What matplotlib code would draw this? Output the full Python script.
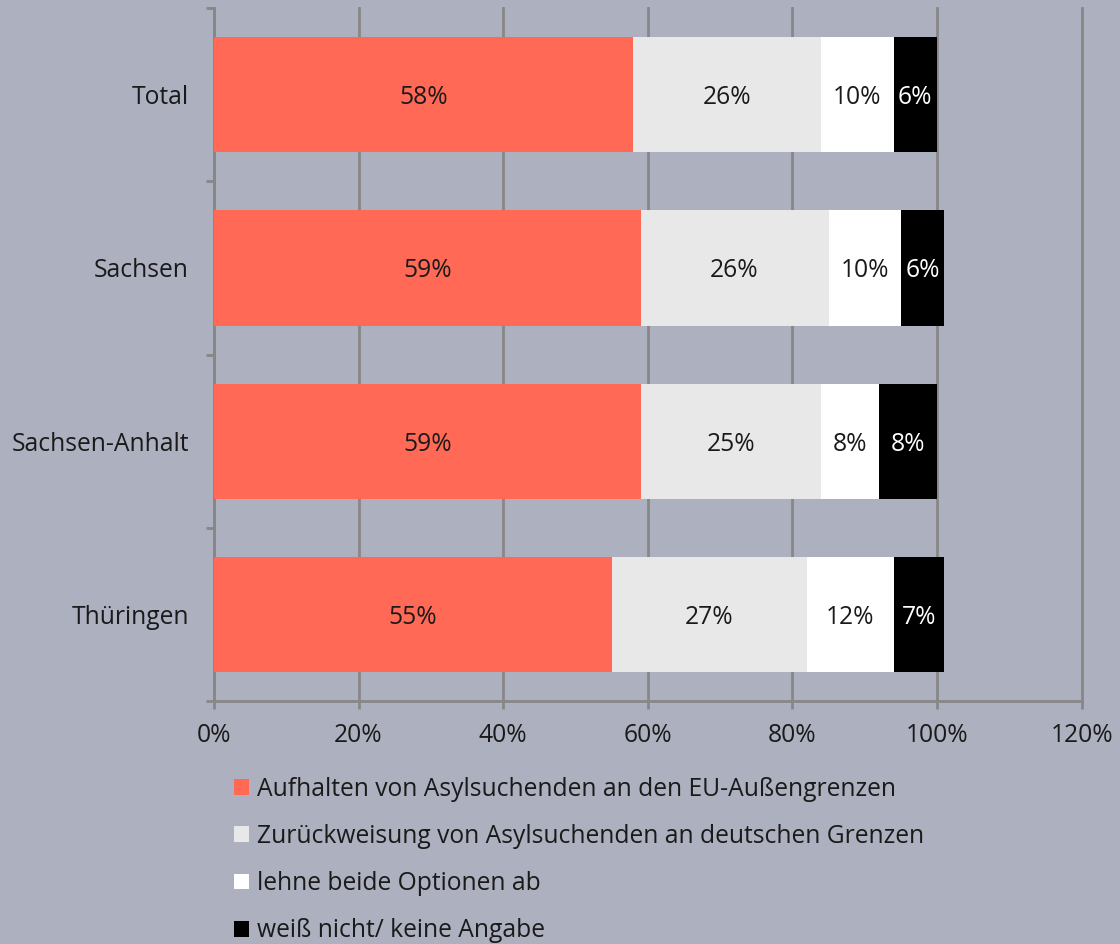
import matplotlib
matplotlib.use("Agg")
import matplotlib.pyplot as plt
import numpy as np

categories = ["Total", "Sachsen", "Sachsen-Anhalt", "Thüringen"]
series_names = [
    "Aufhalten von Asylsuchenden an den EU-Außengrenzen",
    "Zurückweisung von Asylsuchenden an deutschen Grenzen",
    "lehne beide Optionen ab",
    "weiß nicht/ keine Angabe",
]
aufhalten = [58, 59, 59, 55]
zurueck = [26, 26, 25, 27]
lehne = [10, 10, 8, 12]
weiss = [6, 6, 8, 7]
x_ticks = [0, 20, 40, 60, 80, 100, 120]

colors = ["#FF6955", "#E8E8E8", "#FFFFFF", "#000000"]
label_colors = ["#1a1a1a", "#1a1a1a", "#1a1a1a", "#FFFFFF"]
bg = "#ADB0BF"
grid_c = "#878787"
FS = 17.7

plt.rcParams['font.family'] = ['Open Sans', 'DejaVu Sans']

fig = plt.figure(figsize=(11.2, 9.44), dpi=100, facecolor=bg)
ax = fig.add_axes([0.191, 0.2574, 0.7747, 0.7341])
ax.set_facecolor(bg)

y = np.arange(len(categories))
left = np.zeros(len(categories))
for vals, col, lc, name in zip([aufhalten, zurueck, lehne, weiss], colors, label_colors, series_names):
    v = np.array(vals, dtype=float)
    bars = ax.barh(y, v, left=left, height=0.665, color=col, label=name, zorder=3)
    for b, val in zip(bars, v):
        ax.text(b.get_x() + b.get_width() / 2, b.get_y() + b.get_height() / 2,
                f"{int(val)}%", ha="center", va="center_baseline", color=lc, fontsize=FS, zorder=4)
    left += v

ax.set_xlim(0, 120)
ax.set_ylim(3.5, -0.5)
ax.set_xticks(x_ticks)
ax.set_xticklabels([f"{t}%" for t in x_ticks], fontsize=FS, color="#1a1a1a")
ax.set_yticks(y)
ax.set_yticklabels(categories, fontsize=FS, color="#1a1a1a")
ax.set_yticks([-0.5, 0.5, 1.5, 2.5, 3.5], minor=True)
ax.tick_params(axis="y", which="major", length=0, pad=18)
ax.tick_params(axis="y", which="minor", length=6, width=2, color=grid_c)
ax.tick_params(axis="x", length=6, width=2, color=grid_c, pad=10)
ax.xaxis.grid(True, color=grid_c, linewidth=2, zorder=0)
ax.set_axisbelow(True)
for gl in ax.get_xgridlines():
    gl.set_clip_on(False)
for s in ["top", "right"]:
    ax.spines[s].set_visible(False)
for s in ["left", "bottom"]:
    ax.spines[s].set_color(grid_c)
    ax.spines[s].set_linewidth(2)

handles, labels = ax.get_legend_handles_labels()
leg = fig.legend(handles, labels, loc="upper left", bbox_to_anchor=(0.209, 0.177),
                 frameon=False, fontsize=FS, handlelength=0.62, handleheight=0.62,
                 handletextpad=0.3, labelspacing=0.9, borderaxespad=0, borderpad=0)
for t in leg.get_texts():
    t.set_color("#1a1a1a")

fig.savefig("out.png", dpi=100, facecolor=bg)
